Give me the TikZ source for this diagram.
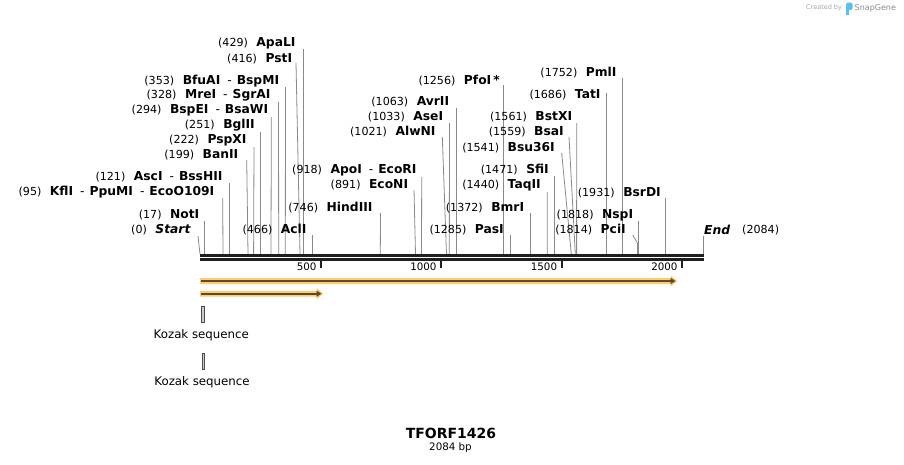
\documentclass[tikz,border=0pt]{standalone}
\usepackage{fontspec}
\setmainfont{DejaVu Sans}
\usetikzlibrary{arrows.meta}
\definecolor{featfill}{HTML}{FFCC70}
\definecolor{featline}{HTML}{5A4A30}
\definecolor{siteg}{HTML}{8A8A8A}
\definecolor{snapblue}{HTML}{5BC0F0}
\definecolor{wmgray}{HTML}{A8A8A8}
\newcommand\numtxt[1]{{\mdseries\fontsize{11.1}{13}\selectfont(#1)}\hspace{8.5pt}}
\newcommand\rsep{\hspace{7pt}{\mdseries -}\hspace{5pt}}
\newcommand\rsite[7]{%
  \node[lbl] (L#1) at (#2,#3) {#7};
  \coordinate (T#1) at (#4,#5);
  \coordinate (B#1) at (#6,254);
  \draw[siteline] (T#1) -- (B#1);
}
\tikzset{
  lbl/.style={anchor=east, inner sep=0pt, font=\fontsize{12.3}{14}\selectfont\bfseries},
  siteline/.style={draw=siteg, line width=0.8pt},
  barline/.style={draw=black!88, line width=2.5pt},
  ticklbl/.style={anchor=east, inner sep=0pt, font=\fontsize{10.3}{12}\selectfont},
  numlbl/.style={inner sep=0pt, font=\fontsize{11.1}{13}\selectfont},
  tickline/.style={draw=black!88, line width=1.7pt},
  kozakbox/.style={draw=black!70, fill=black!20, line width=0.6pt},
  plain/.style={inner sep=0pt, font=\fontsize{11.8}{14}\selectfont},
}
\begin{document}
\begin{tikzpicture}[x=1pt,y=-1pt]
\useasboundingbox (0,0) rectangle (904,464);
\fill[white] (0,0) rectangle (904,464);

% sites
\rsite{start}{191}{230}{198}{236}{200}{\numtxt{0}\textit{Start}}
\rsite{notI}{199.5}{215}{204}{221}{204}{\numtxt{17}NotI}
\rsite{kflI}{214.5}{192}{222.7}{198}{223}{\numtxt{95}KflI\rsep PpuMI\rsep EcoO109I}
\rsite{ascI}{222.7}{177}{229.3}{183}{229.3}{\numtxt{121}AscI\rsep BssHII}
\rsite{banII}{238.5}{155}{246.7}{160}{248}{\numtxt{199}BanII}
\rsite{pspXI}{246.7}{140}{254}{147}{253.6}{\numtxt{222}PspXI}
\rsite{bglII}{255}{125}{260.2}{132}{260.2}{\numtxt{251}BglII}
\rsite{bspEI}{268.3}{110}{271.3}{117}{271}{\numtxt{294}BspEI\rsep BsaWI}
\rsite{mreI}{270.7}{95.7}{278.5}{102}{278.7}{\numtxt{328}MreI\rsep SgrAI}
\rsite{bfuAI}{279.3}{80.7}{285.5}{87}{285.3}{\numtxt{353}BfuAI\rsep BspMI}
\rsite{pstI}{292.3}{58.5}{296}{63}{300}{\numtxt{416}PstI}
\rsite{apaLI}{295.7}{43.5}{303.3}{49}{303.3}{\numtxt{429}ApaLI}
\rsite{aclI}{306.7}{230}{312}{235}{312}{\numtxt{466}AclI}
\rsite{hindIII}{372.7}{207.3}{380.5}{213}{380.3}{\numtxt{746}HindIII}
\rsite{ecoNI}{408.3}{184.5}{414}{190}{415.5}{\numtxt{891}EcoNI}
\rsite{apoI}{416.7}{170}{421.7}{177}{421.5}{\numtxt{918}ApoI\rsep EcoRI}
\rsite{alwNI}{435.7}{132}{442.3}{137}{446.5}{\numtxt{1021}AlwNI}
\rsite{aseI}{443.3}{116.7}{449.5}{123}{449.3}{\numtxt{1033}AseI}
\rsite{avrII}{449.3}{102}{456}{108}{456}{\numtxt{1063}AvrII}
\rsite{pfoI}{500}{80.7}{503.3}{85}{503.3}{\numtxt{1256}PfoI\,*}
\rsite{pasI}{504}{230}{510}{235}{510}{\numtxt{1285}PasI}
\rsite{bmrI}{524.3}{207.3}{530.5}{213}{530.5}{\numtxt{1372}BmrI}
\rsite{taqII}{541}{185}{547.3}{192}{547.2}{\numtxt{1440}TaqII}
\rsite{sfiI}{549}{170}{554.3}{176}{554.3}{\numtxt{1471}SfiI}
\rsite{bsu36I}{555}{147.3}{561.7}{153}{571.3}{\numtxt{1541}Bsu36I}
\rsite{bsaI}{564}{131.7}{569}{137}{575.3}{\numtxt{1559}BsaI}
\rsite{bstXI}{572.3}{117}{576.7}{123}{576.6}{\numtxt{1561}BstXI}
\rsite{tatI}{600.7}{94.3}{606.7}{92.5}{606.7}{\numtxt{1686}TatI}
\rsite{pmlI}{616.7}{72.7}{622.3}{78.3}{622.3}{\numtxt{1752}PmlI}
\rsite{bsrDI}{661}{192.3}{665.7}{198}{665.7}{\numtxt{1931}BsrDI}
\rsite{nspI}{633.3}{215}{638.3}{221}{638.3}{\numtxt{1818}NspI}

% PciI with bent leader
\node[lbl] (LpciI) at (626,230) {\numtxt{1814}PciI};
\coordinate (TpciI) at (632.7,235);
\coordinate (KpciI) at (637.4,243);
\coordinate (BpciI) at (637.4,254);
\draw[siteline] (TpciI) -- (KpciI) -- (BpciI);

% End
\node[lbl, anchor=west] (Lend) at (704,230) {\textit{End}};
\node[numlbl, anchor=west] (Nend) at (742,230) {(2084)};
\coordinate (Tend) at (703.3,236);
\coordinate (Bend) at (703.3,254);
\draw[siteline] (Tend) -- (Bend);

% bar
\coordinate (barL1) at (200,255.3);
\coordinate (barR1) at (703.6,255.3);
\coordinate (barL2) at (200,259.3);
\coordinate (barR2) at (703.6,259.3);
\draw[barline] (barL1) -- (barR1);
\draw[barline] (barL2) -- (barR2);

% scale ticks
\foreach \tx/\lx/\l in {320.7/316.7/500, 440.7/436.7/1000, 561.7/557.3/1500, 681.7/677.7/2000}{
  \coordinate (tkA\l) at (\tx,260.5);
  \coordinate (tkB\l) at (\tx,267.6);
  \draw[tickline] (tkA\l) -- (tkB\l);
  \node[ticklbl] (tkL\l) at (\lx,266.5) {\l};
}

% features
\fill[featfill] (200,278) -- (670.5,278) -- (670.5,275.3) -- (677.3,281) -- (670.5,286.7) -- (670.5,284) -- (200,284) -- cycle;
\coordinate (f1a) at (201,281);
\coordinate (f1b) at (675.5,281);
\draw[featline, line width=1.7pt, -{Triangle[length=5pt,width=6pt]}] (f1a) -- (f1b);

\fill[featfill] (200,290.8) -- (316.5,290.8) -- (316.5,288) -- (323.3,293.7) -- (316.5,299.4) -- (316.5,296.6) -- (200,296.6) -- cycle;
\coordinate (f2a) at (201,293.7);
\coordinate (f2b) at (321.5,293.7);
\draw[featline, line width=1.7pt, -{Triangle[length=5pt,width=6pt]}] (f2a) -- (f2b);

% Kozak sequences
\draw[kozakbox] (201,306.3) rectangle (203.8,322.4);
\node[plain] (koz1) at (201.3,335.3) {Kozak sequence};
\draw[kozakbox] (201.8,353.5) rectangle (204.5,369.3);
\node[plain] (koz2) at (202,382) {Kozak sequence};

% title
\node[inner sep=0pt, font=\fontsize{14}{16}\selectfont\bfseries] (title) at (451,433.3) {TFORF1426};
\node[inner sep=0pt, font=\fontsize{10.3}{12}\selectfont] (len) at (450.5,447.7) {2084 bp};

% watermark
\node[inner sep=0pt, anchor=west, text=wmgray, font=\fontsize{6.5}{8}\selectfont] (wm1) at (806,8) {Created by};
\fill[snapblue, rounded corners=1.5pt] (846,2.5) rectangle (852.5,10);
\fill[snapblue] (846,4) rectangle (849,15);
\node[inner sep=0pt, anchor=west, text=black!45, font=\fontsize{8}{9}\selectfont] (wm2) at (854.5,8) {SnapGene};
\end{tikzpicture}
\end{document}
